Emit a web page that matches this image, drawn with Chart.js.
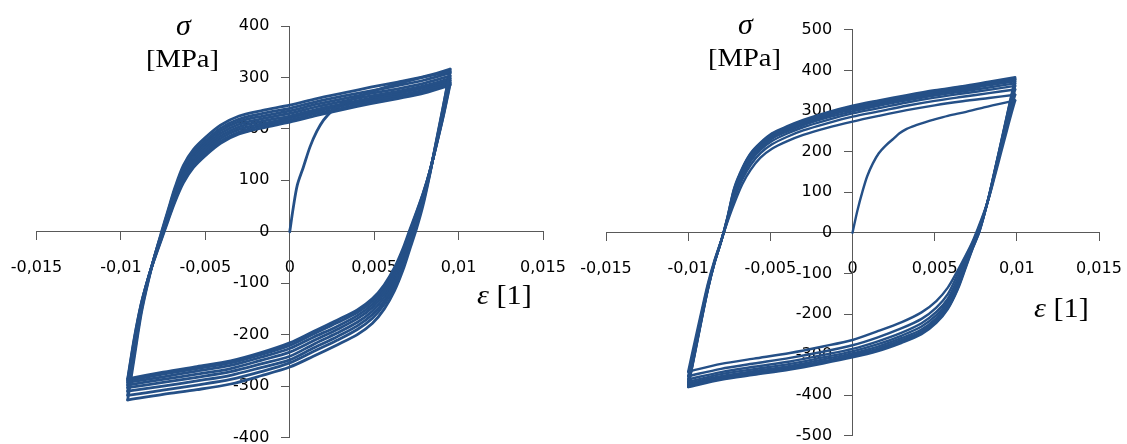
<!DOCTYPE html>
<html lang="en">
<head>
  <meta charset="UTF-8" />
  <title>Hysteresis loops</title>
  <script src="https://cdn.jsdelivr.net/npm/chart.js"></script>
  <style>
    body { margin: 0; background: #fff; }
    #wrap { position: relative; width: 1127px; height: 444px; overflow: hidden; }
    /* canvases overhang the page by 50px so the scale's own label padding never squeezes the plot */
    #wrap canvas { position: absolute; left: -50px; top: -50px; }
    .lbl {
      position: absolute;
      font-family: "Liberation Serif", "DejaVu Serif", serif;
      color: #000;
      white-space: nowrap;
      line-height: 1;
      transform-origin: left top;
    }
    .it { font-style: italic; }
  </style>
</head>
<body>
  <div id="wrap">
    <canvas id="left" width="1227" height="544"></canvas>
    <canvas id="right" width="1227" height="544"></canvas>

    <div class="lbl it" style="left:176px; top:10px; font-size:30px;">σ</div>
    <div class="lbl" style="left:146px; top:46px; font-size:26px; transform:scaleX(1.1);">[MPa]</div>
    <div class="lbl" style="left:477px; top:281px; font-size:28px; transform:scaleX(1.08);"><span class="it">ε</span> [1]</div>

    <div class="lbl it" style="left:738px; top:9px; font-size:30px;">σ</div>
    <div class="lbl" style="left:708px; top:45px; font-size:26px; transform:scaleX(1.1);">[MPa]</div>
    <div class="lbl" style="left:1034px; top:294px; font-size:28px; transform:scaleX(1.08);"><span class="it">ε</span> [1]</div>
  </div>

  <script>
    // tick values
    const strainTicks = [-0.015, -0.01, -0.005, 0, 0.005, 0.01, 0.015];
    const leftStressTicks = [-400, -300, -200, -100, 0, 100, 200, 300, 400];
    const rightStressTicks = [-500, -400, -300, -200, -100, 0, 100, 200, 300, 400, 500];

    // ---- left chart (cyclic softening) ----
    const leftInitStrain = [0, 0.0002, 0.00045, 0.0008, 0.0012, 0.0016, 0.002, 0.0025, 0.003, 0.004, 0.005, 0.006, 0.007, 0.008, 0.0095];
    const leftInitStress = [0, 45, 91, 125, 165, 195, 217, 235, 247, 262, 274, 284, 293, 301, 312];

    // descending branches (tension tip -> compression tip)
    const leftDownStrain = [0.0095, 0.0091, 0.0087, 0.0083, 0.0079, 0.0075, 0.0071, 0.0067, 0.0062, 0.0056, 0.0049, 0.004, 0.0028, 0.0014, 0, -0.0017, -0.0035, -0.0055, -0.0075, -0.0096];
    const leftDownStress = [
      [312, 246, 180, 112, 52, 5, -35, -75, -115, -150, -178, -200, -220, -242, -263, -280, -296, -307, -316, -327],
      [316, 244, 178, 114, 58, 12, -27, -67, -106, -141, -168, -190, -211, -233, -255, -272, -287, -298, -308, -318],
      [309, 240, 176, 115, 63, 19, -20, -60, -99, -134, -161, -183, -204, -226, -249, -264, -279, -290, -300, -310],
      [303, 236, 174, 116, 67, 25, -14, -53, -92, -127, -154, -176, -197, -219, -242, -257, -272, -283, -293, -303],
      [298, 233, 173, 117, 70, 29, -9, -47, -86, -120, -147, -169, -190, -212, -234, -250, -266, -277, -287, -298],
      [294, 230, 172, 118, 72, 33, -5, -42, -80, -114, -141, -163, -184, -205, -227, -244, -260, -271, -282, -293],
      [290, 227, 171, 118, 74, 36, -1, -37, -75, -108, -135, -157, -177, -199, -221, -239, -255, -266, -277, -289],
      [287, 225, 170, 118, 75, 38, 3, -33, -70, -103, -130, -152, -172, -194, -216, -235, -251, -262, -273, -286]
    ];

    // ascending branches (compression tip -> tension tip)
    const leftUpStrain = [-0.0096, -0.0092, -0.0088, -0.0084, -0.008, -0.0076, -0.0072, -0.0068, -0.0063, -0.0057, -0.005, -0.0041, -0.003, -0.0016, 0, 0.0016, 0.0032, 0.0048, 0.0064, 0.008, 0.0095];
    const leftUpStress = [
      [-327, -243, -160, -99, -47, -1, 43, 86, 129, 160, 183, 207, 225, 236, 246, 259, 270, 281, 291, 302, 316],
      [-318, -235, -155, -97, -47, -3, 40, 82, 124, 154, 177, 201, 219, 230, 240, 253, 264, 274, 284, 295, 309],
      [-310, -228, -151, -95, -47, -5, 37, 78, 119, 149, 172, 196, 214, 225, 235, 248, 259, 269, 278, 289, 303],
      [-303, -222, -148, -94, -48, -7, 34, 74, 114, 144, 167, 191, 209, 220, 230, 243, 254, 264, 273, 284, 298],
      [-298, -217, -145, -93, -49, -9, 31, 70, 109, 139, 162, 186, 204, 215, 225, 238, 249, 260, 269, 280, 294],
      [-293, -212, -143, -92, -50, -11, 28, 66, 104, 134, 157, 181, 199, 210, 221, 234, 245, 256, 265, 276, 290],
      [-289, -208, -141, -92, -51, -13, 25, 62, 99, 129, 152, 176, 194, 206, 217, 230, 241, 252, 262, 273, 287],
      [-286, -205, -140, -92, -52, -15, 22, 58, 95, 125, 148, 172, 190, 202, 213, 226, 238, 249, 259, 270, 285]
    ];

    // ---- right chart (cyclic hardening) ----
    const rightInitStrain = [0, 0.0003, 0.00063, 0.0009, 0.00124, 0.0016, 0.00205, 0.0025, 0.00286, 0.0033, 0.00387, 0.0044, 0.00489, 0.0058, 0.00692, 0.008, 0.0099];
    const rightInitStress = [0, 55, 105, 140, 171, 196, 216, 232, 245, 256, 265, 272, 278, 288, 298, 309, 326];

    const rightDownStrain = [0.0099, 0.0097, 0.0095, 0.0092, 0.0089, 0.0086, 0.0083, 0.008, 0.0077, 0.0073, 0.0069, 0.0064, 0.0058, 0.0051, 0.0042, 0.003, 0.0015, 0, -0.0018, -0.0038, -0.006, -0.008, -0.01];
    const rightDownStress = [
      [326, 298, 268, 222, 176, 130, 86, 50, 18, -22, -55, -93, -135, -168, -196, -220, -243, -264, -280, -296, -310, -323, -342],
      [340, 312, 280, 231, 183, 134, 87, 48, 14, -25, -58, -102, -151, -184, -212, -235, -258, -277, -293, -308, -322, -335, -353],
      [353, 322, 288, 238, 187, 137, 88, 46, 10, -29, -64, -113, -162, -195, -223, -246, -268, -286, -301, -317, -330, -343, -361],
      [362, 329, 294, 242, 190, 139, 89, 45, 7, -32, -69, -121, -169, -203, -231, -253, -275, -292, -307, -323, -336, -348, -367],
      [368, 334, 299, 246, 193, 141, 89, 44, 5, -35, -75, -127, -176, -210, -238, -259, -281, -297, -312, -328, -341, -353, -371],
      [373, 339, 303, 249, 195, 142, 89, 43, 3, -37, -79, -133, -181, -215, -243, -264, -286, -301, -317, -332, -345, -357, -375],
      [377, 342, 306, 251, 197, 143, 90, 42, 1, -39, -82, -137, -185, -219, -247, -268, -289, -304, -319, -335, -348, -360, -378],
      [380, 345, 308, 253, 198, 144, 90, 42, 0, -40, -85, -140, -188, -222, -250, -271, -292, -307, -322, -337, -350, -362, -380]
    ];

    const rightUpStrain = [-0.01, -0.0096, -0.0092, -0.0088, -0.0084, -0.008, -0.0076, -0.0072, -0.0067, -0.0062, -0.0056, -0.0049, -0.004, -0.003, -0.0016, 0, 0.0016, 0.0033, 0.005, 0.0067, 0.0083, 0.0099];
    const rightUpStress = [
      [-342, -268, -195, -125, -68, -20, 28, 72, 120, 155, 185, 207, 225, 241, 258, 274, 288, 302, 314, 324, 332, 340],
      [-353, -278, -202, -130, -70, -21, 31, 84, 132, 167, 196, 218, 236, 252, 269, 286, 299, 313, 325, 335, 344, 353],
      [-361, -284, -207, -133, -72, -21, 33, 91, 140, 176, 204, 226, 244, 260, 277, 294, 307, 321, 333, 343, 352, 362],
      [-367, -289, -210, -135, -73, -21, 35, 96, 146, 182, 209, 232, 249, 265, 283, 299, 313, 326, 338, 348, 358, 368],
      [-371, -293, -213, -137, -73, -22, 36, 101, 151, 187, 213, 236, 253, 269, 287, 304, 317, 330, 342, 352, 363, 373],
      [-375, -296, -215, -138, -74, -22, 38, 105, 155, 191, 217, 240, 257, 273, 291, 308, 321, 334, 346, 356, 367, 377],
      [-378, -298, -217, -139, -75, -22, 39, 108, 158, 194, 220, 243, 260, 276, 294, 311, 324, 337, 349, 359, 370, 380],
      [-380, -300, -218, -140, -75, -22, 40, 110, 160, 196, 222, 245, 262, 278, 296, 313, 326, 339, 351, 361, 372, 383]
    ];

    const lineColor = '#255087';
    const axisColor = '#595959';
    const tickFont = { family: 'DejaVu Sans', size: 16 };

    const pts = (xs, ys) => xs.map((x, i) => ({ x, y: ys[i] }));

    const buildSets = (initX, initY, downX, downY, upX, upY, width) => {
      const sets = [pts(initX, initY)];
      downY.forEach((row, k) => {
        sets.push(pts(downX, row));
        sets.push(pts(upX, upY[k]));
      });
      return sets.map(data => ({
        data,
        showLine: true,
        borderColor: lineColor,
        borderWidth: width,
        pointRadius: 0,
        tension: 0.3,
        fill: false,
        borderJoinStyle: 'round',
        borderCapStyle: 'round'
      }));
    };

    const makeChart = (id, datasets, yTicks, padding) => {
      new Chart(document.getElementById(id), {
        type: 'scatter',
        data: { datasets },
        options: {
          responsive: false,
          animation: false,
          events: [],
          layout: { padding },
          plugins: { legend: { display: false }, tooltip: { enabled: false } },
          scales: {
            x: {
              type: 'linear',
              position: { y: 0 },
              min: strainTicks[0],
              max: strainTicks[strainTicks.length - 1],
              afterBuildTicks: axis => { axis.ticks = strainTicks.map(v => ({ value: v })); },
              ticks: {
                autoSkip: false,
                maxRotation: 0,
                padding: 18,
                color: '#000',
                font: tickFont,
                callback: v => String(v).replace('.', ',')
              },
              grid: { drawOnChartArea: false, tickLength: 8, color: axisColor },
              border: { color: axisColor, width: 1 }
            },
            y: {
              type: 'linear',
              position: { x: 0 },
              min: yTicks[0],
              max: yTicks[yTicks.length - 1],
              afterBuildTicks: axis => { axis.ticks = yTicks.map(v => ({ value: v })); },
              ticks: {
                autoSkip: false,
                color: '#000',
                font: tickFont,
                // labels sit 20px left of the axis line
                callback: v => v + '    '
              },
              grid: { drawOnChartArea: false, tickLength: 8, color: axisColor },
              border: { color: axisColor, width: 1 }
            }
          }
        }
      });
    };

    // padding includes the 50px overhang of the canvas
    makeChart('left',
      buildSets(leftInitStrain, leftInitStress, leftDownStrain, leftDownStress, leftUpStrain, leftUpStress, 2.8),
      leftStressTicks,
      { left: 86.5, right: 634, top: 76, bottom: 56.5 });

    makeChart('right',
      buildSets(rightInitStrain, rightInitStress, rightDownStrain, rightDownStress, rightUpStrain, rightUpStress, 2.4),
      rightStressTicks,
      { left: 656, right: 78, top: 79.8, bottom: 58.2 });
  </script>
</body>
</html>
